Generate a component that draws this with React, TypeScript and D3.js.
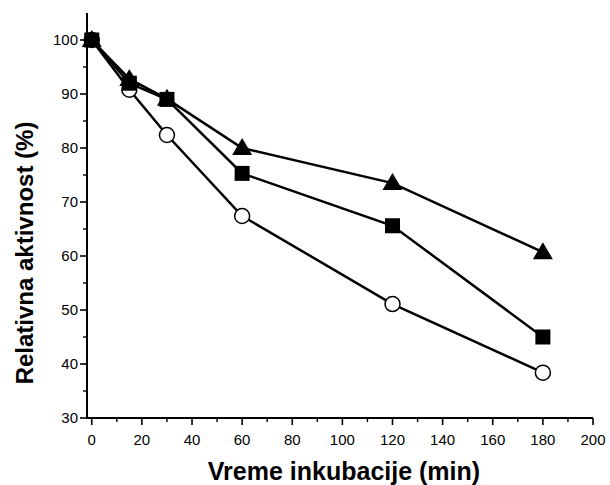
import React from "react";
import * as d3 from "d3";

const times = [0, 15, 30, 60, 120, 180];
const triangleSeries = [100, 92.8, 89.1, 80, 73.5, 60.7];
const squareSeries = [100, 92, 89, 75.3, 65.6, 45];
const circleSeries = [100, 90.8, 82.4, 67.4, 51.1, 38.4];
const xTicks = [0, 20, 40, 60, 80, 100, 120, 140, 160, 180, 200];
const yTicks = [30, 40, 50, 60, 70, 80, 90, 100];

const W = 610, H = 485;
const x = d3.scaleLinear().domain([-1.9, 200]).range([87, 593]);
const y = d3.scaleLinear().domain([30, 105]).range([418, 13]);
const line = d3.line<number>().x((_, i) => x(times[i])).y((d) => y(d));
const font = "'Liberation Sans', Arial, Helvetica, sans-serif";

export default function App() {
  const xMinor = d3.range(10, 200, 20);
  const yMinor = d3.range(35, 105, 10);
  const tri = (cx: number, cy: number) => {
    const s = 10;
    return `M${cx},${cy - 10}L${cx + s},${cy + 7}L${cx - s},${cy + 7}Z`;
  };
  const x0 = x(-1.9);
  return (
    <svg width={W} height={H} style={{ position: "absolute", left: 0, top: 0, background: "#fff" }}>
      {/* axes */}
      <line x1={x0} x2={x0} y1={y(105)} y2={y(30) + 1} stroke="#000" strokeWidth={2} />
      <line x1={x0 - 1} x2={x(200)} y1={y(30)} y2={y(30)} stroke="#000" strokeWidth={2} />
      {yTicks.map((t) => (
        <g key={"y" + t}>
          <line x1={x0 - 7} x2={x0} y1={y(t)} y2={y(t)} stroke="#000" strokeWidth={1.6} />
          <text x={x0 - 9} y={y(t)} dy="0.36em" textAnchor="end" fontFamily={font} fontSize={15}>{t}</text>
        </g>
      ))}
      {yMinor.map((t) => (
        <line key={"ym" + t} x1={x0 - 4} x2={x0} y1={y(t)} y2={y(t)} stroke="#000" strokeWidth={1.4} />
      ))}
      {xTicks.map((t) => (
        <g key={"x" + t}>
          <line x1={x(t)} x2={x(t)} y1={y(30)} y2={y(30) + 7} stroke="#000" strokeWidth={1.6} />
          <text x={x(t)} y={445} textAnchor="middle" fontFamily={font} fontSize={15}>{t}</text>
        </g>
      ))}
      {xMinor.map((t) => (
        <line key={"xm" + t} x1={x(t)} x2={x(t)} y1={y(30)} y2={y(30) + 4} stroke="#000" strokeWidth={1.4} />
      ))}
      <text x={344} y={480} textAnchor="middle" fontFamily={font} fontWeight="bold" fontSize={25}>Vreme inkubacije (min)</text>
      <text transform="translate(33,253) rotate(-90)" textAnchor="middle" fontFamily={font} fontWeight="bold" fontSize={24}>Relativna aktivnost (%)</text>
      {/* lines */}
      {[circleSeries, squareSeries, triangleSeries].map((s, k) => (
        <path key={"l" + k} d={line(s) || ""} fill="none" stroke="#000" strokeWidth={2.5} />
      ))}
      {circleSeries.map((v, i) => (
        <circle key={"c" + i} cx={x(times[i])} cy={y(v)} r={7.5} fill="#fff" stroke="#000" strokeWidth={1.5} />
      ))}
      {squareSeries.map((v, i) => (
        <rect key={"s" + i} x={x(times[i]) - 7.5} y={y(v) - 7.5} width={15} height={15} fill="#000" />
      ))}
      {triangleSeries.map((v, i) => (
        <path key={"t" + i} d={tri(x(times[i]), y(v))} fill="#000" />
      ))}
    </svg>
  );
}
